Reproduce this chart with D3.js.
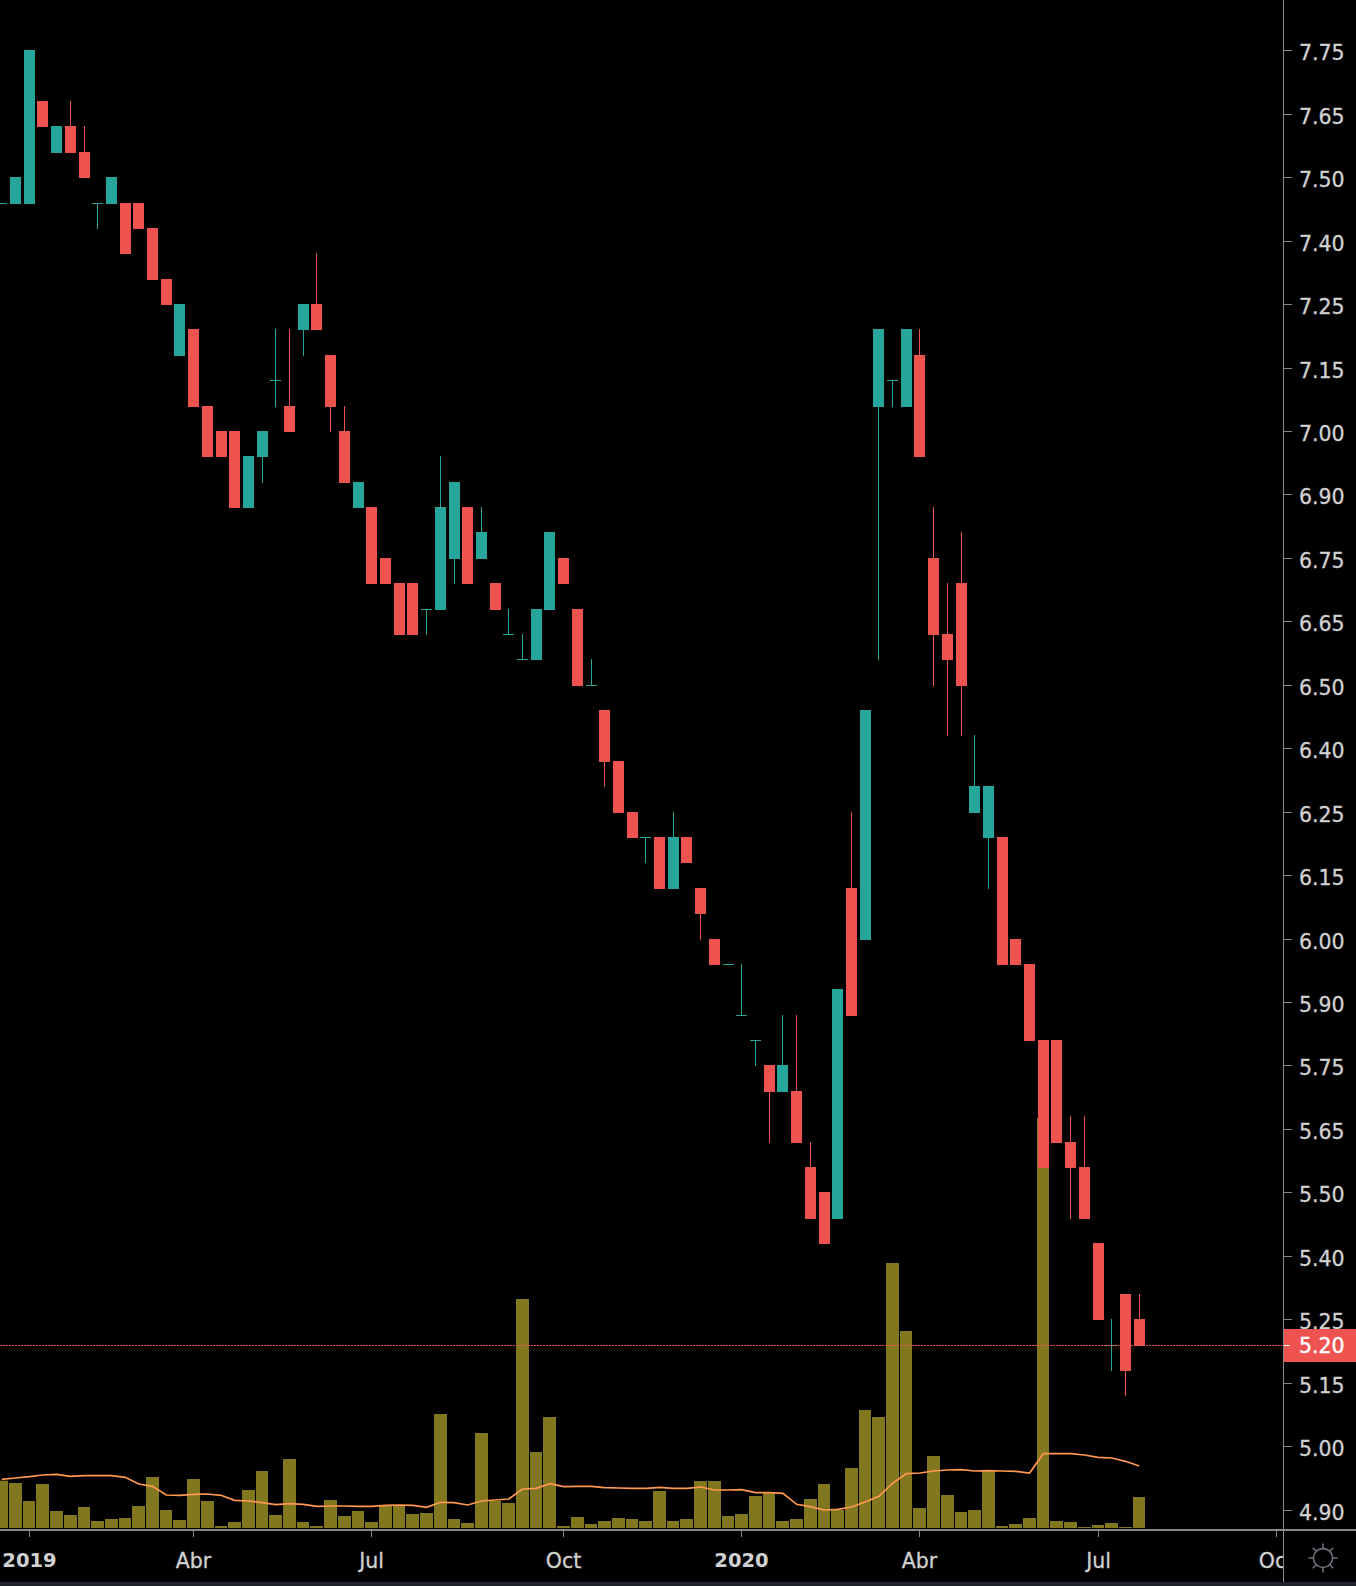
<!DOCTYPE html>
<html lang="es">
<head>
    <meta charset="UTF-8">
    <title>Velas semanales</title>
    <script src="https://d3js.org/d3.v7.min.js"></script>
    <style>
        html, body { margin: 0; padding: 0; background: #000; overflow: hidden; }
        svg { display: block; }
        text { font-family: "DejaVu Sans", sans-serif; }
    </style>
</head>
<body>
<svg id="chart" width="1356" height="1586"></svg>

<script>
    // velas semanales, de izquierda a derecha
    const opens = [7.45,7.45,7.45,7.65,7.55,7.60,7.55,7.45,7.45,7.45,7.45,7.40,7.30,7.15,7.20,7.05,7.00,7.00,6.85,6.95,7.10,
        7.05,7.20,7.25,7.15,7.00,6.85,6.85,6.75,6.70,6.70,6.65,6.65,6.75,6.85,6.75,6.70,6.60,6.55,6.55,6.65,6.75,
        6.65,6.50,6.45,6.35,6.25,6.20,6.20,6.10,6.20,6.10,6.00,5.95,5.85,5.80,5.75,5.70,5.70,5.55,5.50,5.45,6.10,
        6.00,7.05,7.10,7.05,7.15,6.75,6.60,6.70,6.25,6.20,6.20,6.00,5.95,5.80,5.80,5.60,5.55,5.40,5.20,5.30,5.25];
    const highs = [7.45,7.50,7.75,7.65,7.60,7.65,7.60,7.45,7.50,7.45,7.45,7.40,7.30,7.25,7.20,7.05,7.00,7.00,6.95,7.00,7.20,
        7.20,7.25,7.35,7.15,7.05,6.90,6.85,6.75,6.70,6.70,6.65,6.95,6.90,6.85,6.85,6.70,6.65,6.60,6.65,6.80,6.75,
        6.65,6.55,6.45,6.35,6.25,6.20,6.20,6.25,6.20,6.10,6.00,5.95,5.95,5.80,5.75,5.85,5.85,5.60,5.50,5.90,6.25,
        6.45,7.20,7.10,7.20,7.20,6.85,6.70,6.80,6.40,6.30,6.20,6.00,5.95,5.80,5.80,5.65,5.65,5.40,5.25,5.30,5.30];
    const lows = [7.45,7.45,7.45,7.60,7.55,7.55,7.50,7.40,7.45,7.35,7.40,7.30,7.25,7.15,7.05,6.95,6.95,6.85,6.85,6.90,7.05,
        7.00,7.15,7.20,7.00,6.90,6.85,6.70,6.70,6.60,6.60,6.60,6.65,6.70,6.70,6.75,6.65,6.60,6.55,6.55,6.65,6.70,
        6.50,6.50,6.30,6.25,6.20,6.15,6.10,6.10,6.15,6.00,5.95,5.95,5.85,5.75,5.60,5.70,5.60,5.45,5.40,5.45,5.85,
        6.00,6.55,7.05,7.05,6.95,6.50,6.40,6.40,6.25,6.10,5.95,5.95,5.80,5.55,5.60,5.45,5.45,5.25,5.15,5.10,5.20];
    const closes = [7.45,7.50,7.75,7.60,7.60,7.55,7.50,7.45,7.50,7.35,7.40,7.30,7.25,7.25,7.05,6.95,6.95,6.85,6.95,7.00,7.10,
        7.00,7.25,7.20,7.05,6.90,6.90,6.70,6.70,6.60,6.60,6.65,6.85,6.90,6.70,6.80,6.65,6.60,6.55,6.65,6.80,6.70,
        6.50,6.50,6.35,6.25,6.20,6.20,6.10,6.20,6.15,6.05,5.95,5.95,5.85,5.80,5.70,5.75,5.60,5.45,5.40,5.90,5.85,
        6.45,7.20,7.10,7.20,6.95,6.60,6.55,6.50,6.30,6.30,5.95,5.95,5.80,5.55,5.60,5.55,5.45,5.25,5.20,5.15,5.20];

    // volumen y su media movil (misma escala)
    const volumes = [473,450,270,440,170,130,210,70,90,100,220,510,180,80,490,270,20,60,380,570,130,
        690,60,20,280,120,170,60,220,230,140,150,1140,90,50,950,270,250,2290,760,1110,20,
        110,40,70,100,90,70,370,70,90,470,470,120,140,320,350,70,90,290,440,180,600,
        1180,1110,2650,1970,200,720,330,160,180,570,20,40,100,4100,70,60,10,30,50,10,310];
    const volumeMA = [487,500,513,530,537,517,523,523,523,507,440,417,330,327,337,340,327,277,270,253,233,
        243,237,217,220,220,217,217,227,230,227,207,257,253,230,270,280,290,390,397,443,413,
        417,417,403,400,397,397,407,397,397,410,380,380,383,353,353,347,237,213,180,187,210,
        260,317,447,543,550,570,580,583,570,573,570,567,550,743,743,743,730,707,700,667,620];

    const priceTicks = [7.75,7.625,7.5,7.375,7.25,7.125,7,6.875,6.75,6.625,6.5,6.375,6.25,6.125,6,5.875,5.75,5.625,5.5,5.375,5.25,5.125,5,4.875];
    const priceLabels = ["7.75","7.65","7.50","7.40","7.25","7.15","7.00","6.90","6.75","6.65","6.50","6.40","6.25","6.15","6.00","5.90","5.75","5.65","5.50","5.40","5.25","5.15","5.00","4.90"];
    const timeTicks = [2,14,27,41,54,67,80,93];
    const timeLabels = ["2019","Abr","Jul","Oct","2020","Abr","Jul","Oct"];
    const yearLabels = ["2019","2020"];
    const lastPrice = 5.20;

    const width = 1356;
    const height = 1586;
    const axisX = 1283;
    const axisY = 1530;

    const up = "#26a69a", down = "#ef5350";
    const olive = "#80771f", orange = "#ff9850";
    const axisColor = "#868993", textColor = "#d1d1d1";

    const svg = d3.select("#chart");
    svg.append("rect").attr("width", width).attr("height", height).attr("fill", "#000");

    const x = d3.scaleLinear().domain([0, opens.length - 1]).range([1.79, 1139.22]);
    const y = d3.scaleLinear().domain([7.75, 4.875]).range([51.1, 1510.3]);
    const yVol = d3.scaleLinear().domain([0, 4100]).range([1528, 1118]);

    const idx = d3.range(opens.length);

    // barras de volumen, pegadas a la siguiente con 1px de separacion
    const volLeft = i => Math.round(x(i) - 6.5);
    svg.append("g").selectAll("rect")
        .data(idx)
        .enter().append("rect")
        .attr("x", i => volLeft(i))
        .attr("width", i => volLeft(i + 1) - volLeft(i) - 1)
        .attr("y", i => yVol(volumes[i]))
        .attr("height", i => yVol(0) - yVol(volumes[i]))
        .attr("fill", olive);

    const maLine = d3.line().x(i => x(i)).y(i => yVol(volumeMA[i]));
    svg.append("path")
        .attr("d", maLine(idx))
        .attr("fill", "none")
        .attr("stroke", orange)
        .attr("stroke-width", 1.7);

    // velas
    const colorOf = i => closes[i] >= opens[i] ? up : down;
    const candleLeft = i => Math.round(x(i) - 5.5);
    const topOf = p => Math.floor(y(p) - 0.3);
    const bottomOf = p => Math.ceil(y(p) - 0.3);
    const candles = svg.append("g");

    candles.selectAll("rect.wick")
        .data(idx)
        .enter().append("rect")
        .attr("class", "wick")
        .attr("x", i => candleLeft(i) + 5)
        .attr("width", 1)
        .attr("y", i => topOf(highs[i]))
        .attr("height", i => bottomOf(lows[i]) - topOf(highs[i]))
        .attr("fill", colorOf);

    candles.selectAll("rect.body")
        .data(idx)
        .enter().append("rect")
        .attr("class", "body")
        .attr("x", i => candleLeft(i))
        .attr("width", 11)
        .attr("y", i => topOf(Math.max(opens[i], closes[i])))
        .attr("height", i => bottomOf(Math.min(opens[i], closes[i])) - topOf(Math.max(opens[i], closes[i])))
        .attr("fill", colorOf);

    // linea de ultimo precio
    svg.append("line")
        .attr("x1", 0).attr("x2", axisX)
        .attr("y1", topOf(lastPrice) + 0.5).attr("y2", topOf(lastPrice) + 0.5)
        .attr("stroke", down)
        .attr("stroke-width", 1)
        .attr("stroke-dasharray", "2 1");

    // eje de precios
    const yAxis = d3.axisRight(y)
        .tickValues(priceTicks)
        .tickFormat((d, i) => priceLabels[i])
        .tickSize(9)
        .tickPadding(7);
    const yG = svg.append("g")
        .attr("transform", `translate(${axisX},0)`)
        .call(yAxis);
    yG.select(".domain").remove();
    yG.selectAll(".tick").attr("transform", d => `translate(0,${topOf(d) + 0.5})`);
    yG.selectAll("line").attr("stroke", axisColor);
    yG.selectAll("text")
        .attr("y", 3)
        .attr("fill", textColor)
        .attr("stroke", textColor)
        .attr("stroke-width", 0.3)
        .attr("font-size", 20.5)
        .attr("font-family", "'DejaVu Sans', sans-serif");

    // etiqueta del ultimo precio
    svg.append("rect")
        .attr("x", axisX).attr("width", width - axisX)
        .attr("y", 1329).attr("height", 33)
        .attr("fill", down);
    svg.append("line")
        .attr("x1", axisX).attr("x2", axisX + 7)
        .attr("y1", topOf(lastPrice) + 0.5).attr("y2", topOf(lastPrice) + 0.5)
        .attr("stroke", "#fff");
    svg.append("text")
        .attr("x", axisX + 16)
        .attr("y", y(lastPrice))
        .attr("dy", "0.37em")
        .attr("fill", "#fff")
        .attr("stroke", "#fff")
        .attr("stroke-width", 0.4)
        .attr("font-size", 20.5)
        .text(lastPrice.toFixed(2));

    // eje de tiempo
    svg.append("defs").append("clipPath").attr("id", "timeClip")
        .append("rect").attr("x", 0).attr("y", axisY).attr("width", axisX).attr("height", 60);

    const xAxis = d3.axisBottom(x)
        .tickValues(timeTicks)
        .tickFormat((d, i) => timeLabels[i])
        .tickSize(7)
        .tickPadding(16.5);
    const xG = svg.append("g").attr("clip-path", "url(#timeClip)");
    const xInner = xG.append("g").attr("transform", `translate(0,${axisY})`).call(xAxis);
    xInner.select(".domain").remove();
    xInner.selectAll(".tick").attr("transform", d => `translate(${Math.floor(x(d)) + 0.5},0)`);
    xInner.selectAll("line").attr("stroke", axisColor);
    xInner.selectAll("text")
        .attr("fill", textColor)
        .attr("font-family", "'DejaVu Sans', sans-serif")
        .each(function (d) {
            const isYear = yearLabels.includes(timeLabels[timeTicks.indexOf(d)]);
            d3.select(this)
                .attr("font-weight", isYear ? "bold" : "normal")
                .attr("font-size", isYear ? 19.5 : 20.5)
                .attr("stroke", isYear ? "none" : textColor)
                .attr("stroke-width", 0.3);
        });

    // bordes de los ejes
    svg.append("line")
        .attr("x1", 0).attr("x2", width).attr("y1", axisY).attr("y2", axisY)
        .attr("stroke", "#888").attr("stroke-width", 2);
    svg.append("line")
        .attr("x1", axisX + 0.5).attr("x2", axisX + 0.5).attr("y1", 0).attr("y2", 1582)
        .attr("stroke", axisColor);
    svg.append("rect")
        .attr("x", 0).attr("y", 1582).attr("width", width).attr("height", 4)
        .attr("fill", "#1e222d");

    // icono de ajustes
    const sun = svg.append("g")
        .attr("transform", "translate(1323,1558)")
        .attr("stroke", "#787b86").attr("fill", "none").attr("stroke-width", 1.4);
    sun.append("circle").attr("r", 9.5);
    d3.range(8).forEach(k => {
        const a = k * Math.PI / 4;
        sun.append("line")
            .attr("x1", 9.5 * Math.cos(a)).attr("y1", 9.5 * Math.sin(a))
            .attr("x2", 14.5 * Math.cos(a)).attr("y2", 14.5 * Math.sin(a));
    });
</script>
</body>
</html>
